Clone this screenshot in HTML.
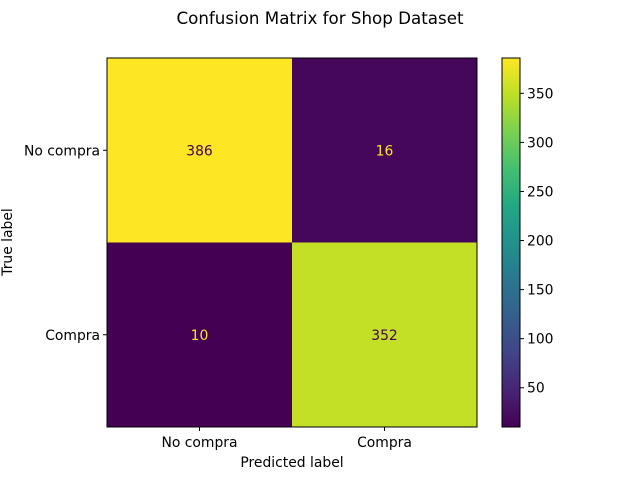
<!DOCTYPE html>
<html><head><meta charset="utf-8"><style>
body{margin:0;background:#fff;}
svg{display:block;font-family:"DejaVu Sans","Liberation Sans",sans-serif;}
</style></head><body>
<svg id="c" width="640" height="480" viewBox="0 0 640 480">
<defs><linearGradient id="vir" x1="0" y1="1" x2="0" y2="0">
<stop offset="0" stop-color="#440154"/><stop offset="0.1" stop-color="#482475"/><stop offset="0.2" stop-color="#414487"/><stop offset="0.3" stop-color="#355f8d"/><stop offset="0.4" stop-color="#2a788e"/><stop offset="0.5" stop-color="#21918c"/><stop offset="0.6" stop-color="#22a884"/><stop offset="0.7" stop-color="#44bf70"/><stop offset="0.8" stop-color="#7ad151"/><stop offset="0.9" stop-color="#bddf26"/><stop offset="1" stop-color="#fde725"/>
</linearGradient></defs>
<text x="320" y="24" font-size="16.7" text-anchor="middle">Confusion Matrix for Shop Dataset</text>
<g id="cells"></g>
<rect x="107" y="58" width="370" height="369" fill="none" stroke="#000" stroke-width="1"/>
<g id="axes" font-size="13.9"></g>
<text x="292" y="467" font-size="13.9" text-anchor="middle">Predicted label</text>
<text x="0" y="0" font-size="13.9" text-anchor="middle" transform="translate(12,242) rotate(-90)">True label</text>
<rect x="502" y="58" width="18" height="369" fill="url(#vir)" stroke="#000" stroke-width="1"/>
<g id="cbticks" font-size="13.9"></g>
</svg>
<script>
const classes=["No compra","Compra"];
const row0=[386,16];
const row1=[10,352];
const cbTicks=[50,100,150,200,250,300,350];
const matrix=[row0,row1];
const ns="http://www.w3.org/2000/svg";
const X0=107,Y0=58,W=370,H=369;
const all=matrix.flat();const vmin=Math.min(...all),vmax=Math.max(...all);
const vir=[[68,1,84],[72,36,117],[65,68,135],[53,95,141],[42,120,142],[33,145,140],[34,168,132],[68,191,112],[122,209,81],[189,223,38],[253,231,37]];
function color(v){let t=(v-vmin)/(vmax-vmin)*10;let i=Math.min(9,Math.floor(t));let f=t-i;let a=vir[i],b=vir[i+1];return "rgb("+a.map((c,k)=>Math.round(c+(b[k]-c)*f)).join(",")+")";}
const n=classes.length,cw=W/n,ch=H/n;
const cells=document.getElementById("cells"),axes=document.getElementById("axes");
function mk(tag,attrs,txt){const e=document.createElementNS(ns,tag);for(const k in attrs)e.setAttribute(k,attrs[k]);if(txt!==undefined)e.textContent=txt;return e;}
matrix.forEach((row,r)=>row.forEach((v,c)=>{
 const rc=mk("rect",{x:X0+c*cw,y:Y0+r*ch,width:cw+0.5,height:ch+0.5,fill:color(v)});
 
 
 cells.appendChild(rc);
 const t=mk("text",{x:X0+(c+0.5)*cw,y:Y0+(r+0.5)*ch+5,"font-size":13.9,"text-anchor":"middle",fill:(v-vmin)/(vmax-vmin)>0.5?"#440154":"#fde725"},String(v));
 
 
 cells.appendChild(t);
}));
classes.forEach((cl,i)=>{
 const cx=X0+(i+0.5)*cw, cy=Y0+(i+0.5)*ch;
 const l1=mk("line",{x1:cx,x2:cx,y1:Y0+H,y2:Y0+H+4,stroke:"#000"});
 
 
 axes.appendChild(l1);
 const t1=mk("text",{x:cx,y:Y0+H+20,"text-anchor":"middle"},cl);
 
 
 axes.appendChild(t1);
 const l2=mk("line",{x1:X0-4,x2:X0,y1:cy,y2:cy,stroke:"#000"});
 
 
 axes.appendChild(l2);
 const t2=mk("text",{x:X0-7,y:cy+5,"text-anchor":"end"},cl);
 
 
 axes.appendChild(t2);
});
const cb=document.getElementById("cbticks");
cbTicks.forEach(v=>{
 const y=Y0+H-(v-vmin)/(vmax-vmin)*H;
 const l=mk("line",{x1:520,x2:524,y1:y,y2:y,stroke:"#000"});
 
 
 cb.appendChild(l);
 const t=mk("text",{x:527,y:y+5},String(v));
 
 
 cb.appendChild(t);
});
</script>
</body></html>
